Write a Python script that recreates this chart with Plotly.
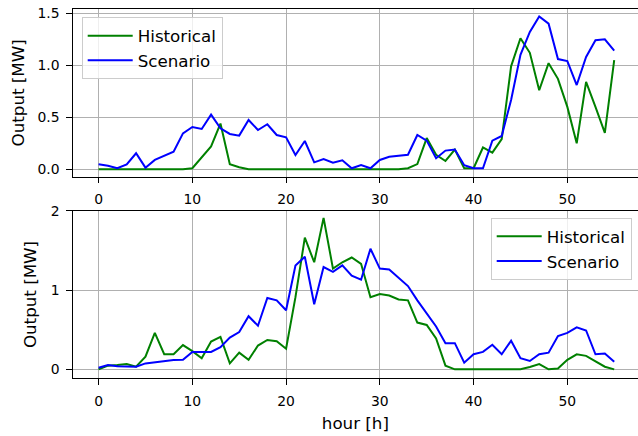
import plotly.graph_objects as go

hours = list(range(56))

hist_top = [0.0, 0.0, 0.0, 0.0, 0.0, 0.0, 0.0, 0.0, 0.0, 0.0,
            0.01, 0.12, 0.22, 0.44, 0.05, 0.02, 0.0, 0.0, 0.0, 0.0,
            0.0, 0.0, 0.0, 0.0, 0.0, 0.0, 0.0, 0.0, 0.0, 0.0,
            0.0, 0.0, 0.0, 0.01, 0.05, 0.30, 0.14, 0.08, 0.19, 0.01,
            0.01, 0.21, 0.16, 0.29, 0.99, 1.26, 1.12, 0.76, 1.02, 0.87,
            0.60, 0.25, 0.84, 0.60, 0.35, 1.05]
scen_top = [0.048, 0.035, 0.01, 0.048, 0.154, 0.016, 0.09, 0.128, 0.17, 0.346,
            0.407, 0.388, 0.526, 0.394, 0.34, 0.324, 0.474, 0.378, 0.433, 0.33,
            0.308, 0.138, 0.272, 0.067, 0.099, 0.064, 0.087, 0.01, 0.04, 0.01,
            0.09, 0.12, 0.128, 0.14, 0.33, 0.276, 0.106, 0.18, 0.19, 0.04,
            0.01, 0.01, 0.276, 0.32, 0.667, 1.10, 1.32, 1.47, 1.40, 1.06,
            1.04, 0.81, 1.08, 1.24, 1.25, 1.14]

hist_bot = [0.0, 0.046, 0.054, 0.067, 0.033, 0.16, 0.46, 0.19, 0.19, 0.305,
            0.23, 0.14, 0.35, 0.41, 0.075, 0.21, 0.12, 0.30, 0.37, 0.355,
            0.26, 0.91, 1.66, 1.35, 1.91, 1.27, 1.35, 1.41, 1.33, 0.91,
            0.95, 0.93, 0.88, 0.87, 0.59, 0.56, 0.39, 0.046, 0.0, 0.0,
            0.0, 0.0, 0.0, 0.0, 0.0, 0.0, 0.03, 0.067, 0.0, 0.01,
            0.12, 0.19, 0.17, 0.096, 0.033, 0.0]
scen_bot = [0.02, 0.054, 0.04, 0.04, 0.033, 0.075, 0.09, 0.10, 0.117, 0.12,
            0.22, 0.22, 0.22, 0.28, 0.40, 0.47, 0.67, 0.55, 0.90, 0.87,
            0.745, 1.31, 1.42, 0.82, 1.29, 1.23, 1.31, 1.18, 1.13, 1.52,
            1.27, 1.26, 1.15, 1.05, 0.87, 0.71, 0.54, 0.33, 0.33, 0.084,
            0.19, 0.22, 0.31, 0.19, 0.36, 0.14, 0.105, 0.19, 0.21, 0.42,
            0.46, 0.53, 0.49, 0.19, 0.20, 0.096]

x_ticks = [0, 10, 20, 30, 40, 50]
top_yticks = [0.0, 0.5, 1.0, 1.5]
top_ylabels = ["0.0", "0.5", "1.0", "1.5"]
bot_yticks = [0, 1, 2]
bot_ylabels = ["0", "1", "2"]

GREEN = "#008000"
BLUE = "#0000ff"
FONT = "DejaVu Sans"
W, H = 638, 436


def px(sx):
    return sx / W


def py(sy):
    return 1 - sy / H


fig = go.Figure()
fig.add_trace(go.Scatter(x=hours, y=hist_top, mode="lines", name="Historical", legendgroup="a",
                         line=dict(color=GREEN, width=2), xaxis="x", yaxis="y", legend="legend"))
fig.add_trace(go.Scatter(x=hours, y=scen_top, mode="lines", name="Scenario", legendgroup="b",
                         line=dict(color=BLUE, width=2), xaxis="x", yaxis="y", legend="legend"))
fig.add_trace(go.Scatter(x=hours, y=hist_bot, mode="lines", name="Historical", legendgroup="c",
                         line=dict(color=GREEN, width=2), xaxis="x2", yaxis="y2", legend="legend2"))
fig.add_trace(go.Scatter(x=hours, y=scen_bot, mode="lines", name="Scenario", legendgroup="d",
                         line=dict(color=BLUE, width=2), xaxis="x2", yaxis="y2", legend="legend2"))

xr = [-2.75, (638 - 98.3) / 9.38]

common_x = dict(range=xr, domain=[px(72.8), 1.0], tickvals=x_ticks, showgrid=True,
                gridcolor="#b0b0b0", gridwidth=1.1, zeroline=False, showline=True,
                linecolor="black", linewidth=1.1, mirror=True, ticks="outside",
                ticklen=5.5, tickwidth=1.1, tickcolor="black", automargin=False,
                ticklabelstandoff=4,
                tickfont=dict(family=FONT, size=13.9, color="black"))
common_y = dict(showgrid=True, gridcolor="#b0b0b0", gridwidth=1.1, zeroline=False,
                showline=True, linecolor="black", linewidth=1.1, mirror=False,
                ticks="outside", ticklen=5.5, tickwidth=1.1, tickcolor="black",
                automargin=False, ticklabelstandoff=4, ticklabeloverflow="allow",
                tickfont=dict(family=FONT, size=13.9, color="black"),
                title_font=dict(family=FONT, size=16.7, color="black"))

legend_common = dict(bgcolor="rgba(255,255,255,0.8)", bordercolor="#cccccc", borderwidth=1,
                     itemwidth=45, tracegroupgap=0,
                     font=dict(family=FONT, size=16.7, color="black"))

fig.update_layout(
    width=W, height=H,
    margin=dict(l=0, r=0, t=0, b=0, autoexpand=False),
    paper_bgcolor="white", plot_bgcolor="white",
    font=dict(family=FONT, color="black"),
    xaxis=dict(**common_x, anchor="y"),
    yaxis=dict(**common_y, anchor="x", range=[-0.071, 1.541],
               domain=[py(176.7), py(9)],
               tickvals=top_yticks, ticktext=top_ylabels,
               title=dict(text="Output [MW]", standoff=8)),
    xaxis2=dict(**common_x, anchor="y2",
                title=dict(text="hour [h]", standoff=9,
                           font=dict(family=FONT, size=16.7, color="black"))),
    yaxis2=dict(**common_y, anchor="x2", range=[-0.113, 2.0],
                domain=[py(378.3), py(210.7)],
                tickvals=bot_yticks, ticktext=bot_ylabels,
                title=dict(text="Output [MW]", standoff=9)),
    legend=dict(x=px(81.7), y=py(17.3), xanchor="left", yanchor="top", **legend_common),
    legend2=dict(x=px(631.7), y=py(218), xanchor="right", yanchor="top", **legend_common),
)

fig.write_html("out.html", config={"displayModeBar": False},
               post_script="document.body.style.margin='0';")
